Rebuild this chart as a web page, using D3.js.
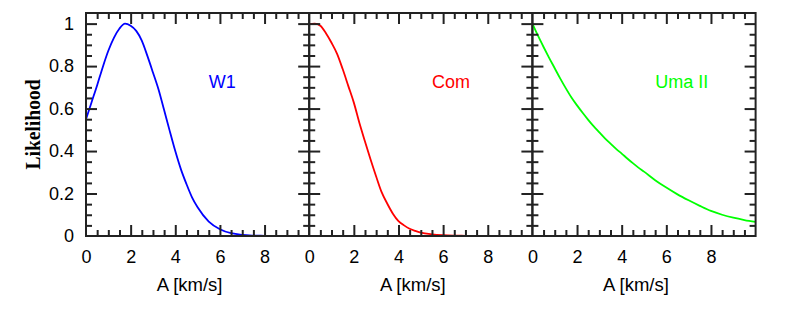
<!DOCTYPE html>
<html>
<head>
<meta charset="utf-8">
<script src="https://cdn.jsdelivr.net/npm/d3@7"></script>
<style>
body { margin: 0; background: #fff; }
text { font-family: "Liberation Sans", Arial, sans-serif; }
</style>
</head>
<body>
<div id="chart"></div>
<script>

/**************************************************************************
****************************** Data ***************************************
**************************************************************************/

// A values (km/s), shared by all three curves
var aValues = [0, 0.25, 0.5, 0.75, 1, 1.25, 1.5, 1.75, 2, 2.25, 2.5, 2.75, 3, 3.25, 3.5, 3.75,
               4, 4.25, 4.5, 4.75, 5, 5.5, 6, 6.5, 7, 7.5, 8, 8.5, 9, 9.5, 10];

// W1 (blue)
var w1Like = [0.55, 0.63, 0.71, 0.795, 0.872, 0.933, 0.977, 1.0, 0.99, 0.966, 0.92, 0.848, 0.77, 0.69, 0.593, 0.495,
              0.40, 0.315, 0.245, 0.182, 0.135, 0.068, 0.032, 0.013, 0.005, 0.002, 0.001, 0, 0, 0, 0];

// Com (red)
var comLike = [0.998, 1.0, 0.99, 0.955, 0.91, 0.858, 0.786, 0.707, 0.628, 0.532, 0.445, 0.36, 0.28, 0.205, 0.152, 0.105,
               0.07, 0.05, 0.034, 0.024, 0.016, 0.008, 0.004, 0.002, 0.001, 0, 0, 0, 0, 0, 0];

// Uma II (green)
var umaLike = [1.0, 0.943, 0.89, 0.839, 0.79, 0.741, 0.695, 0.652, 0.615, 0.58, 0.547, 0.516, 0.488, 0.46, 0.435, 0.41,
               0.388, 0.365, 0.343, 0.322, 0.303, 0.263, 0.228, 0.196, 0.168, 0.142, 0.118, 0.1, 0.086, 0.075, 0.066];

var panelNames = ["W1", "Com", "Uma II"];
var panelColors = ["#0000ff", "#ff0000", "#00ff00"];
var xTickLabels = [0, 2, 4, 6, 8];
var yTickLabels = [0, 0.2, 0.4, 0.6, 0.8, 1];

var series = [w1Like, comLike, umaLike];

/**************************************************************************
****************************** D3.js **************************************
**************************************************************************/

var w = 797;
var h = 321;
var plotTop = 13;
var plotBottom = 236;
var plotLeft = 86;
var panelW = 223.2;
var majorLen = 11;
var minorLen = 6;
var axisColor = "#222";

var svg = d3.select("#chart")
            .append("svg")
            .attr("width", w)
            .attr("height", h);

var y = d3.scaleLinear().domain([0, 1.05]).range([plotBottom, plotTop]);

// tick positions (minor every 0.5 / 0.05)
var xMinor = d3.range(0.5, 10, 0.5).filter(function (d) { return d % 2 !== 0; });
var xMajor = [2, 4, 6, 8];
var yMinor = d3.range(1, 21).map(function (d) { return d * 0.05; }).filter(function (d) { return Math.abs(d * 5 - Math.round(d * 5)) > 1e-6; });
var yMajor = [0.2, 0.4, 0.6, 0.8, 1];

function styleAxis(g) {
    g.select(".domain").remove();
    g.selectAll(".tick line").attr("stroke", axisColor).attr("stroke-width", 2);
    g.selectAll(".tick text").attr("fill", "#000").style("font-size", "18px")
        .style("font-family", "'Liberation Sans', Arial, sans-serif");
}

panelNames.forEach(function (name, p) {
    var x0 = plotLeft + p * panelW;
    var x = d3.scaleLinear().domain([0, 10]).range([x0, x0 + panelW]);
    var g = svg.append("g");

    // curve
    var line = d3.line()
        .x(function (d, i) { return x(aValues[i]); })
        .y(function (d) { return y(d); })
        .curve(d3.curveMonotoneX);

    g.append("path")
        .datum(series[p])
        .attr("d", line)
        .attr("fill", "none")
        .attr("stroke", panelColors[p])
        .attr("stroke-width", 1.8);

    // bottom axis: minor + major (with labels)
    g.append("g").attr("transform", "translate(0," + plotBottom + ")")
        .call(d3.axisBottom(x).tickValues(xMinor).tickSize(-minorLen).tickFormat(""))
        .call(styleAxis);
    g.append("g").attr("transform", "translate(0," + plotBottom + ")")
        .call(d3.axisBottom(x).tickValues(xMajor).tickSize(-majorLen).tickFormat(""))
        .call(styleAxis);
    g.append("g").attr("transform", "translate(0," + plotBottom + ")")
        .call(d3.axisBottom(x).tickValues(xTickLabels).tickSize(0).tickPadding(14))
        .call(styleAxis);

    // top axis
    g.append("g").attr("transform", "translate(0," + plotTop + ")")
        .call(d3.axisTop(x).tickValues(xMinor).tickSize(-minorLen).tickFormat(""))
        .call(styleAxis);
    g.append("g").attr("transform", "translate(0," + plotTop + ")")
        .call(d3.axisTop(x).tickValues(xMajor).tickSize(-majorLen).tickFormat(""))
        .call(styleAxis);

    // left + right axes
    g.append("g").attr("transform", "translate(" + x0 + ",0)")
        .call(d3.axisLeft(y).tickValues(yMinor).tickSize(-minorLen).tickFormat(""))
        .call(styleAxis);
    g.append("g").attr("transform", "translate(" + x0 + ",0)")
        .call(d3.axisLeft(y).tickValues(yMajor).tickSize(-majorLen).tickFormat(""))
        .call(styleAxis);
    g.append("g").attr("transform", "translate(" + (x0 + panelW) + ",0)")
        .call(d3.axisRight(y).tickValues(yMinor).tickSize(-minorLen).tickFormat(""))
        .call(styleAxis);
    g.append("g").attr("transform", "translate(" + (x0 + panelW) + ",0)")
        .call(d3.axisRight(y).tickValues(yMajor).tickSize(-majorLen).tickFormat(""))
        .call(styleAxis);

    // y labels only on first panel
    if (p === 0) {
        g.append("g").attr("transform", "translate(" + x0 + ",0)")
            .call(d3.axisLeft(y).tickValues(yTickLabels).tickSize(0).tickPadding(12)
                .tickFormat(function (d) { return String(d); }))
            .call(styleAxis);
    }

    // frame
    g.append("rect")
        .attr("x", x0).attr("y", plotTop)
        .attr("width", panelW).attr("height", plotBottom - plotTop)
        .attr("fill", "none")
        .attr("stroke", axisColor)
        .attr("stroke-width", 2);

    // panel name
    g.append("text")
        .attr("x", x(5.5))
        .attr("y", y(0.697))
        .attr("fill", panelColors[p])
        .style("font-size", "18px")
        .text(name);

    // x title
    g.append("text")
        .attr("x", x0 + panelW / 2 - 8)
        .attr("y", 291)
        .attr("text-anchor", "middle")
        .style("font-size", "18.5px")
        .text("A [km/s]");
});

// y title
svg.append("text")
    .attr("transform", "translate(40," + ((plotTop + plotBottom) / 2) + ") rotate(-90)")
    .attr("text-anchor", "middle")
    .style("font-family", "'Liberation Serif', 'DejaVu Serif', serif")
    .style("font-weight", "bold")
    .style("font-size", "22px")
    .attr("textLength", 90)
    .attr("lengthAdjust", "spacingAndGlyphs")
    .text("Likelihood");

</script>
</body>
</html>
